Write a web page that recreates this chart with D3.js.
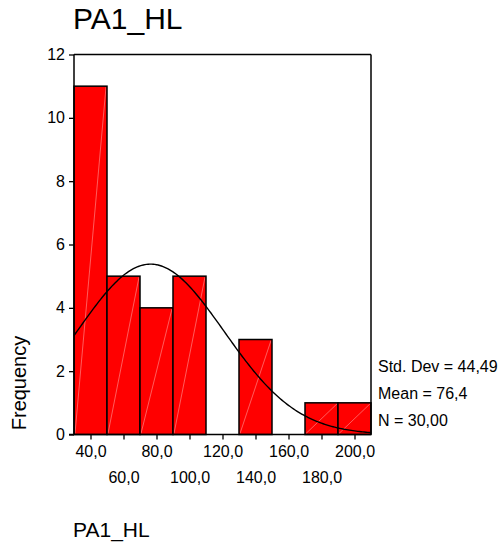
<!DOCTYPE html>
<html>
<head>
<meta charset="utf-8">
<script src="https://cdn.jsdelivr.net/npm/d3@7/dist/d3.min.js"></script>
<style>
  body { margin: 0; background: #fff; }
  svg { display: block; }
  text { font-family: "Liberation Sans", Arial, sans-serif; fill: #000; }
</style>
</head>
<body>
<svg id="chart" width="502" height="545"></svg>
<script>
// ---- data ----
const binStarts = [30, 50, 70, 90, 110, 130, 150, 170, 190];
const binWidth = 20;
const frequencies = [11, 5, 4, 5, 0, 3, 0, 1, 1];
const xTicks = [40, 60, 80, 100, 120, 140, 160, 180, 200];
const yTicks = [0, 2, 4, 6, 8, 10, 12];
const statLabels = ["Std. Dev = 44,49", "Mean = 76,4", "N = 30,00"];
const statMean = 76.4;
const statSd = 44.49;
const statN = 30;
const titleText = "PA1_HL";
const yLabel = "Frequency";
const xLabel = "PA1_HL";

// ---- layout ----
const svg = d3.select("#chart");
const pLeft = 74, pRight = 371, pTop = 54.5, pBottom = 434.5;
const x = d3.scaleLinear().domain([30, 210]).range([pLeft, pRight]);
const y = d3.scaleLinear().domain([0, 12]).range([pBottom, pTop]);
const fmt = v => d3.format(".1f")(v).replace(".", ",");

// title
svg.append("text").attr("x", 73).attr("y", 28.5)
  .style("font-size", "30px").text(titleText);

// bars
const bars = svg.append("g");
binStarts.forEach((s, i) => {
  const f = frequencies[i];
  if (f <= 0) return;
  const x0 = x(s), x1 = x(s + binWidth), y0 = y(0), y1 = y(f);
  bars.append("rect").attr("x", x0).attr("y", y1)
    .attr("width", x1 - x0).attr("height", y0 - y1)
    .attr("fill", "#ff0000").attr("stroke", "none");
  bars.append("line").attr("x1", x0 + 1).attr("y1", y0 - 1)
    .attr("x2", x1 - 1).attr("y2", y1 + 1)
    .attr("stroke", "#ff9a9a").attr("stroke-width", 0.6);
  bars.append("rect").attr("x", x0).attr("y", y1)
    .attr("width", x1 - x0).attr("height", y0 - y1)
    .attr("fill", "none").attr("stroke", "#000").attr("stroke-width", 1.5);
});

// normal curve from displayed statistics
const curveXs = d3.range(30, 210.5, 1);
const dens = v => statN * binWidth / (statSd * Math.sqrt(2 * Math.PI)) *
  Math.exp(-((v - statMean) ** 2) / (2 * statSd * statSd));
svg.append("path")
  .datum(curveXs)
  .attr("d", d3.line().x(d => x(d)).y(d => y(dens(d))))
  .attr("fill", "none").attr("stroke", "#000").attr("stroke-width", 1.4);

// frame top/right
svg.append("line").attr("x1", pLeft).attr("x2", pRight).attr("y1", pTop).attr("y2", pTop)
  .attr("stroke", "#000").attr("stroke-width", 1.5);
svg.append("line").attr("x1", pRight).attr("x2", pRight).attr("y1", pTop).attr("y2", pBottom)
  .attr("stroke", "#000").attr("stroke-width", 1.5);

// y axis
const yAxis = svg.append("g").attr("transform", `translate(${pLeft},0)`)
  .call(d3.axisLeft(y).tickValues(yTicks).tickSize(5).tickPadding(4).tickFormat(d3.format("d")));
yAxis.select(".domain").attr("stroke", "#000").attr("stroke-width", 1.5)
  .attr("d", `M0,${pTop}V${pBottom}`);
yAxis.selectAll(".tick line").attr("stroke", "#000").attr("stroke-width", 1.3);
yAxis.selectAll(".tick text").style("font-size", "16px").attr("font-family", null);

// x axis
const xAxis = svg.append("g").attr("transform", `translate(0,${pBottom})`)
  .call(d3.axisBottom(x).tickValues(xTicks).tickSize(5).tickFormat(fmt));
xAxis.select(".domain").attr("stroke", "#000").attr("stroke-width", 1.5)
  .attr("d", `M${pLeft - 5},0H${pRight}`);
xAxis.selectAll(".tick line").attr("stroke", "#000").attr("stroke-width", 1.3);
xAxis.selectAll(".tick text")
  .style("font-size", "16px").attr("font-family", null)
  .attr("dy", null)
  .attr("y", (d, i) => i % 2 === 0 ? 22 : 48.5);

// y label
svg.append("text")
  .attr("transform", "translate(26,383) rotate(-90)")
  .attr("text-anchor", "middle")
  .style("font-size", "20px").text(yLabel);

// stats
statLabels.forEach((s, i) => {
  svg.append("text").attr("x", 378).attr("y", 372 + i * 27.2)
    .style("font-size", "16px").text(s);
});

// bottom label
svg.append("text").attr("x", 73).attr("y", 537)
  .style("font-size", "21px").text(xLabel);
</script>
</body>
</html>
